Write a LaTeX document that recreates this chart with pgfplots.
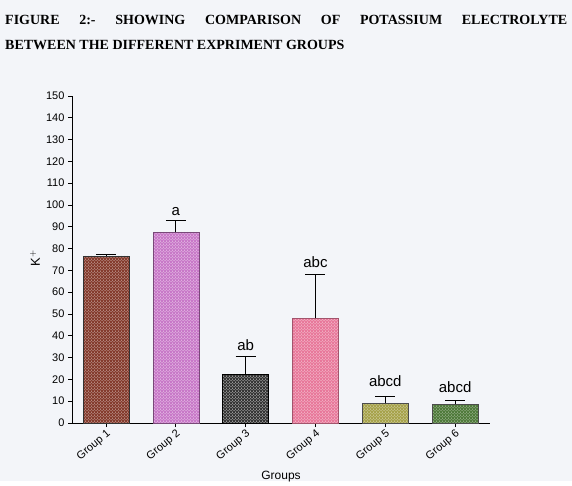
\documentclass[border=0pt]{standalone}
\usepackage{pgfplots}
\pgfplotsset{compat=1.18}
\usepackage{fontspec}
\setmainfont{Liberation Serif}
\newfontfamily\arial{Liberation Sans}
\usetikzlibrary{patterns}
\definecolor{bg}{HTML}{F3F5F9}
\definecolor{gA}{HTML}{843A2C}
\definecolor{gB}{HTML}{C878C8}
\definecolor{gC}{HTML}{333333}
\definecolor{gD}{HTML}{E8789A}
\definecolor{gE}{HTML}{A6A24A}
\definecolor{gF}{HTML}{4F7A3A}
\begin{document}
\begin{tikzpicture}[x=1pt,y=1pt]
\fill[bg] (0,0) rectangle (572,481);
\coordinate (O) at (72,58);
\node[anchor=base west, inner sep=0pt, font=\fontsize{14}{15}\selectfont\bfseries] at (5,456) {\makebox[562pt][s]{FIGURE 2:- SHOWING COMPARISON OF POTASSIUM ELECTROLYTE}};
\node[anchor=base west, inner sep=0pt, font=\fontsize{14}{15}\selectfont\bfseries] at (5,431) {BETWEEN THE DIFFERENT EXPRIMENT GROUPS};
\begin{axis}[
  at={(O)}, anchor=south west,
  scale only axis, width=418pt, height=327pt,
  xmin=-0.487, xmax=5.5, ymin=0, ymax=150,
  ytick distance=10,
  axis lines=left, axis line style={-, line width=1pt},
  tick align=outside, major tick length=4pt,
  tick style={line width=0.8pt, black},
  xtick={0,1,2,3,4,5},
  xticklabels={Group 1,Group 2,Group 3,Group 4,Group 5,Group 6},
  xticklabel style={rotate=40, anchor=north east, inner sep=1pt, font=\arial\fontsize{11}{11}\selectfont},
  yticklabel style={font=\arial\fontsize{11}{11}\selectfont},
  /pgf/number format/assume math mode=true,
  xlabel={Groups}, ylabel={K$^{+}$},
  xlabel style={font=\arial\fontsize{12}{12}\selectfont, at={(axis description cs:0.5,-0.165)}, anchor=center},
  ylabel style={font=\arial\fontsize{13}{13}\selectfont, at={(axis description cs:-0.0885,0.505)}, anchor=center},
  ybar, bar width=0.66, bar shift=0pt,
  error bars/y dir=plus, error bars/y explicit,
  error bars/error bar style={line width=1pt, black},
  error bars/error mark options={rotate=90, mark size=10pt, line width=1pt, black},
]
\addplot[draw=black!80, fill=gA, postaction={pattern=crosshatch dots, pattern color=white!80!gA}] coordinates {(0,76.7) +- (0,0.5)};
\addplot[draw=gB!60!black, fill=gB, postaction={pattern=crosshatch dots, pattern color=white!85!gB}] coordinates {(1,87.7) +- (0,5.3)};
\addplot[draw=black, fill=gC, postaction={pattern=crosshatch dots, pattern color=white}] coordinates {(2,22.5) +- (0,8)};
\addplot[draw=gD!70!black, fill=gD, postaction={pattern=crosshatch dots, pattern color=white!80!gD}] coordinates {(3,48) +- (0,20)};
\addplot[draw=black!70, fill=gE, postaction={pattern=crosshatch dots, pattern color=white!75!gE}] coordinates {(4,9) +- (0,3)};
\addplot[draw=black!70, fill=gF, postaction={pattern=crosshatch dots, pattern color=white!70!gF}] coordinates {(5,8.7) +- (0,1.8)};
\node[font=\arial\fontsize{15}{15}\selectfont] at (axis cs:1,97) {a};
\node[font=\arial\fontsize{15}{15}\selectfont] at (axis cs:2,35.5) {ab};
\node[font=\arial\fontsize{15}{15}\selectfont] at (axis cs:3,74) {abc};
\node[font=\arial\fontsize{15}{15}\selectfont] at (axis cs:4,19) {abcd};
\node[font=\arial\fontsize{15}{15}\selectfont] at (axis cs:5,16.5) {abcd};
\end{axis}
\end{tikzpicture}
\end{document}
